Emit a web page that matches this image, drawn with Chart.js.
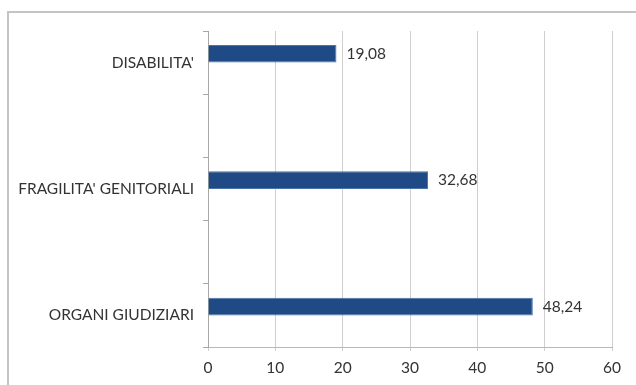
<!DOCTYPE html>
<html>
<head>
<meta charset="utf-8">
<script src="https://cdn.jsdelivr.net/npm/chart.js@4"></script>
<style>
  html, body { margin: 0; padding: 0; background: #fff; }
  #wrap { position: relative; width: 636px; height: 385px; }
  #frame {
    position: absolute; left: 7px; top: 11px; right: 0; bottom: 0;
    border-left: 2px solid #c4c4c4; border-top: 2px solid #c4c4c4;
    pointer-events: none;
  }
  canvas { position: absolute; left: 0; top: 0; }
</style>
</head>
<body>
<div id="wrap">
  <canvas id="bars" width="636" height="385"></canvas>
  <div id="frame"></div>
</div>
<script>
// --- Data ---
const categories = ["DISABILITA'", "", "FRAGILITA' GENITORIALI", "", "ORGANI GIUDIZIARI"];
const values = [19.08, null, 32.68, null, 48.24];
const emptySeries = [null, null, null, null, null];
const xTicks = [0, 10, 20, 30, 40, 50, 60];

const canvas = document.getElementById("bars");
const textColor = "#333333";
const labelFont = "Lato, 'Open Sans', sans-serif";
const fontSize = 15.5;

// value labels to the right of each bar, comma decimals
const valueLabels = {
  id: "valueLabels",
  afterDatasetsDraw(chart) {
    const ctx = chart.ctx;
    const meta = chart.getDatasetMeta(0);
    ctx.save();
    ctx.fillStyle = textColor;
    ctx.font = fontSize + "px " + labelFont;
    ctx.textBaseline = "middle";
    ctx.textAlign = "left";
    meta.data.forEach((bar, i) => {
      const v = values[i];
      if (v == null) return;
      ctx.fillText(v.toFixed(2).replace(".", ","), bar.x + 10, bar.y);
    });
    ctx.restore();
  }
};

new Chart(canvas, {
  type: "bar",
  data: {
    labels: categories,
    datasets: [
      {
        data: values,
        backgroundColor: "#1f4a85",
        borderColor: "#4a74a8",
        borderWidth: 1,
        categoryPercentage: 0.56,
        barPercentage: 1
      },
      {
        data: emptySeries,
        categoryPercentage: 0.56,
        barPercentage: 1
      }
    ]
  },
  options: {
    indexAxis: "y",
    responsive: false,
    animation: false,
    layout: { padding: { left: 0, top: 31, right: 24, bottom: 0 } },
    plugins: {
      legend: { display: false },
      tooltip: { enabled: false }
    },
    scales: {
      x: {
        min: xTicks[0],
        max: xTicks[xTicks.length - 1],
        afterBuildTicks(scale) {
          scale.ticks = xTicks.map(v => ({ value: v }));
        },
        afterFit(scale) { scale.height = 38; },
        grid: {
          color: "#cfcfcf",
          lineWidth: 1,
          tickLength: 4
        },
        border: { color: "#b8b8b8", width: 1 },
        ticks: {
          color: textColor,
          font: { family: labelFont, size: fontSize },
          padding: 8
        }
      },
      y: {
        afterFit(scale) { scale.width = 208; },
        grid: {
          drawOnChartArea: false,
          color: "#a8a8a8",
          tickLength: 5
        },
        border: { color: "#a8a8a8", width: 1 },
        ticks: {
          color: textColor,
          font: { family: labelFont, size: fontSize },
          padding: 9,
          autoSkip: false
        }
      }
    }
  },
  plugins: [valueLabels]
});
</script>
</body>
</html>
